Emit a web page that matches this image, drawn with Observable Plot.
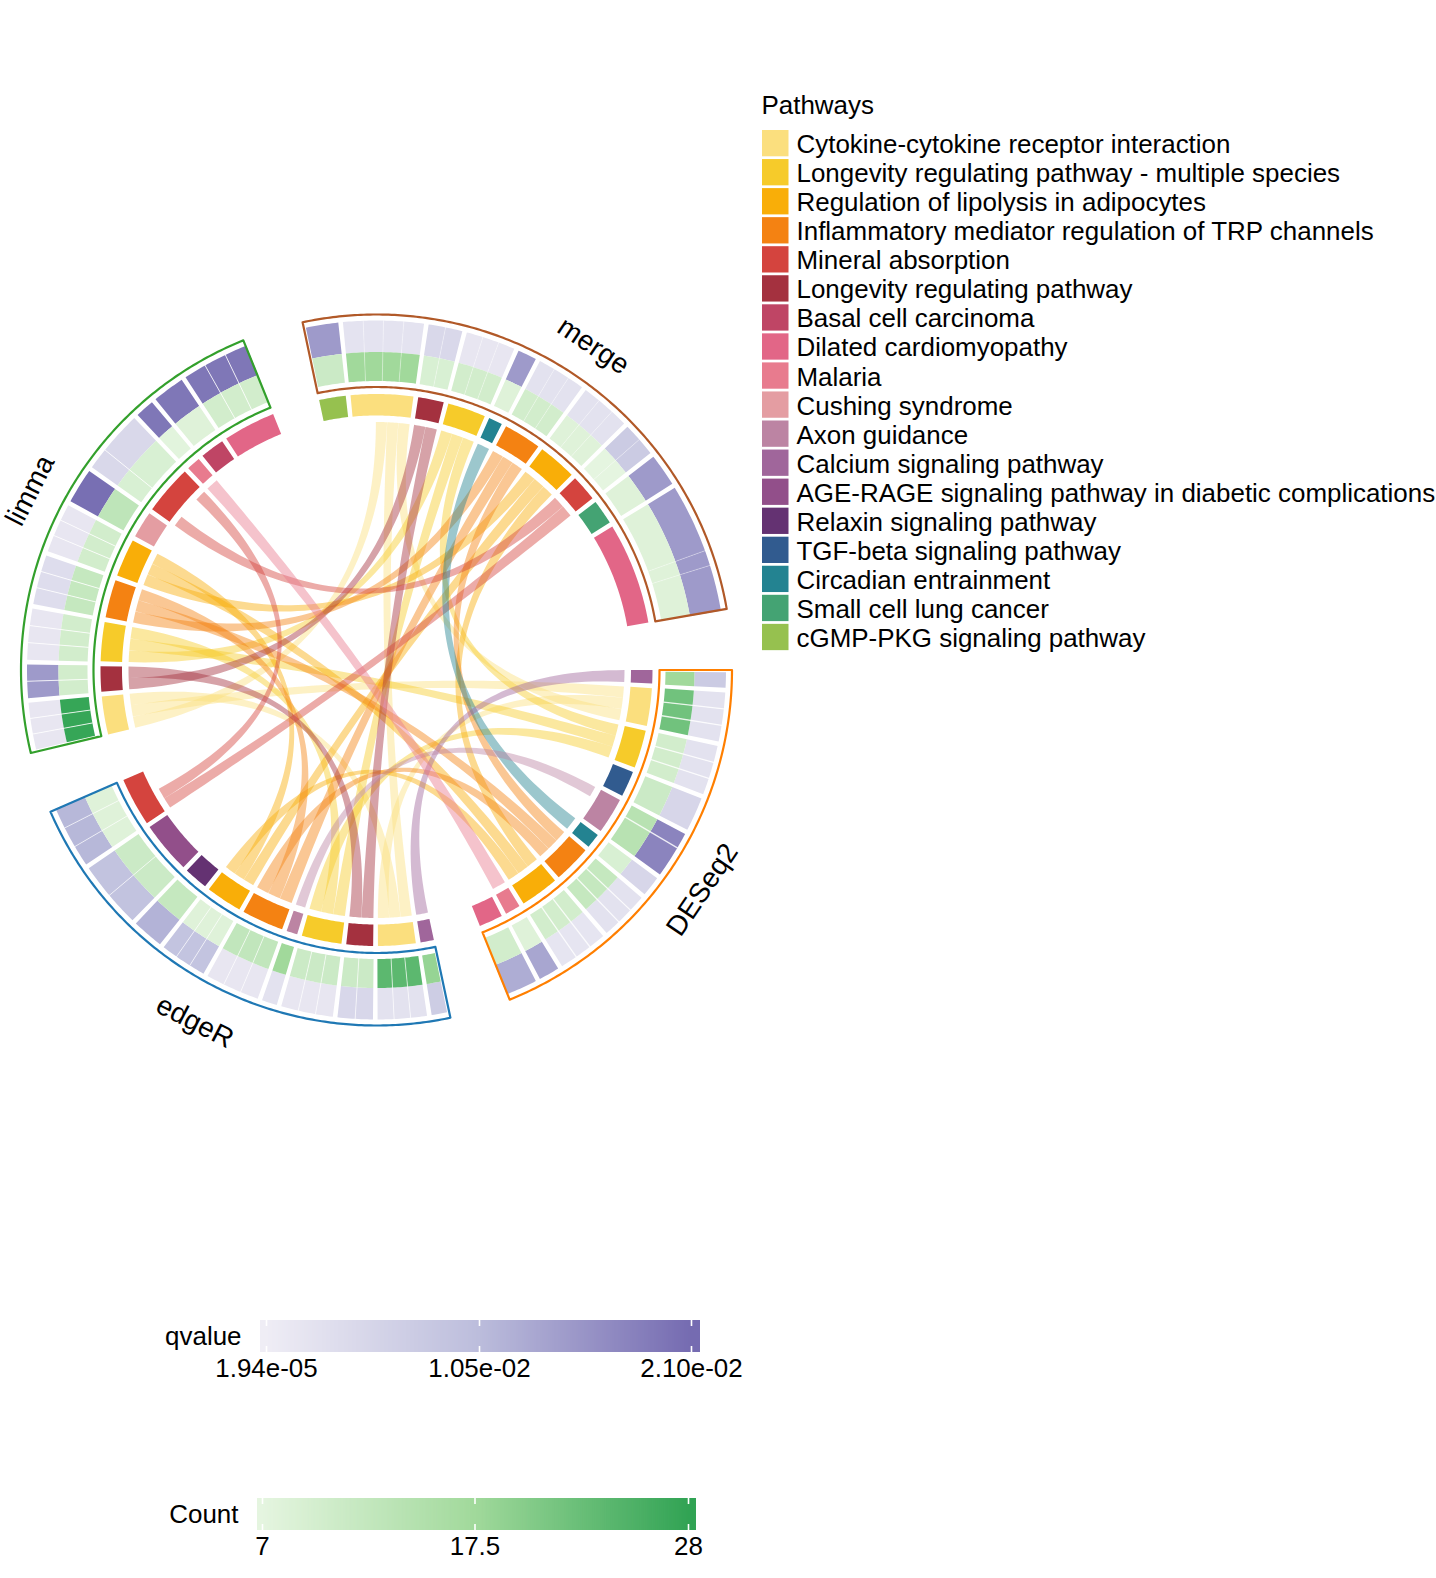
<!DOCTYPE html>
<html><head><meta charset="utf-8">
<script src="https://cdn.jsdelivr.net/npm/d3@7"></script>
<script src="https://cdn.jsdelivr.net/npm/@observablehq/plot@0.6"></script>
<style>html,body{margin:0;padding:0;background:#fff}svg{display:block}</style>
</head><body><div id="chart"></div>
<script>
const pathways=["Cytokine-cytokine receptor interaction","Longevity regulating pathway - multiple species","Regulation of lipolysis in adipocytes","Inflammatory mediator regulation of TRP channels","Mineral absorption","Longevity regulating pathway","Basal cell carcinoma","Dilated cardiomyopathy","Malaria","Cushing syndrome","Axon guidance","Calcium signaling pathway","AGE-RAGE signaling pathway in diabetic complications","Relaxin signaling pathway","TGF-beta signaling pathway","Circadian entrainment","Small cell lung cancer","cGMP-PKG signaling pathway"];
const pathwayColors=["#FBDF7E","#F6CB2A","#F9AE08","#F48212","#D4443E","#A4313F","#BF4565","#E26687","#E87B8E","#E49DA2","#BC84A3","#A0669B","#924F8A","#643272","#315B8F","#238391","#44A373","#96C14F"];
const sectorNames=["merge","DESeq2","edgeR","limma"];
const sectorColors=["#B15928","#FF7F00","#1F78B4","#33A02C"];
const Cy=0,LM=1,Li=2,In=3,Mi=4,LR=5,Ba=6,Di=7,Ma=8,Cu=9,Ax=10,Ca=11,AG=12,Re=13,TG=14,Ci=15,Sm=16,cG=17;

const mergePath=[cG,Cy,LR,LM,Ci,In,Li,Mi,Sm,Di];
const mergeSize=[5.6,13.1,5.4,8,2.9,7.9,8.1,5.5,5.2,21.4];
const mergeQ=[.015,.0022,.0045,.0015,.015,.0025,.0025,.0075,.015,.015];
const mergeCount=[11,17.5,9,10,8,10,8,7,8,8];
const mergeCells=[[1],[1,1,1,1],[1,1],[1,1,1],[1],[1,1,1],[1,1,1],[1,1],[1],[4.5,1,3]];

const deseqPath=[Ca,Cy,LM,TG,Ax,Ci,In,Li,Ma,Di];
const deseqSize=[2.8,7.9,8,5.4,7.6,3.1,7.9,8.1,3.2,5];
const deseqQ=[.0075,.0025,.0025,.005,.0178,.005,.0025,.0018,.0135,.0125];
const deseqCount=[17.5,22,10,11,14,9,12,10,8,10];
const deseqCells=[[1],[1,1,1],[1,1,1],[1],[1,2],[1],[1,1,1],[1,1,1],[1],[1]];

const edgerPath=[Ca,Cy,LR,LM,Ax,In,Li,Re,AG,Mi];
const edgerSize=[2.8,7.9,5.6,8.4,2.3,8.8,7.6,5,10.9,10.2];
const edgerQ=[.007,.0025,.0048,.0015,.0025,.0015,.009,.0118,.0092,.0112];
const edgerCount=[18.5,24,11,11,17.5,12.5,8,12,11,8];
const edgerCells=[[1],[1,1,1],[1,1],[1,1,1],[1],[1,1,1],[1,1,1],[1],[1,1],[1,1,1]];

const limmaPath=[Cy,LR,LM,In,Li,Cu,Mi,Ma,Ba,Di];
const limmaSize=[8,5.3,8.2,8,8,5.6,10.4,2.9,5.1,11];
const limmaQ=[.0015,.015,.0015,.0035,.0015,.0205,.0045,.0195,.0195,.0195];
const limmaCount=[27.5,10,10,12,10,13,9,7.5,8,10];
const limmaCells=[[1,1,1],[1,1],[1,1,1],[1,1,1],[1,1,1],[1],[1,2],[1],[1],[1,1,1]];

const sectorStart=[-12,90,168,256.5];
const M=0,D=1,E=2,L=3;
const slotOrder=new Map([
 [Cy,{[M]:[null,null,L,E,D],[D]:[L,E,M],[E]:[M,L,D],[L]:[M,D,E]}],
 [LM,{[M]:[L,E,D],[D]:[M,L,E],[E]:[M,L,D],[L]:[M,D,E]}],
 [Li,{[M]:[L,E,D],[D]:[M,L,E],[E]:[M,L,D],[L]:[M,D,E]}],
 [In,{[M]:[L,E,D],[D]:[M,L,E],[E]:[M,L,D],[L]:[M,D,E]}],
 [LR,{[M]:[L,E],[E]:[M,L],[L]:[M,E]}],
 [Mi,{[M]:[L,E],[E]:[M,L,null,null],[L]:[M,null,null,E]}],
 [Ci,{[M]:[D],[D]:[M]}],
 [Ca,{[D]:[E],[E]:[D]}],
 [Ax,{[D]:[E,null,null],[E]:[D]}],
 [Ma,{[D]:[L],[L]:[D]}]
]);

const W=1436,H=1578,cx=376,cy=669.5;
const rBorder=[283,355.5],rQ=[318,349.5],rC=[289,318],rRing=[254.5,276],rChord=248;
const GAP=1,RIBBON_K=.4;
const subLine=[.4,1.3,.8,1];
const sin=a=>Math.sin(a*Math.PI/180),cos=a=>Math.cos(a*Math.PI/180);
const pt=(a,r)=>[cx+r*sin(a),cy-r*cos(a)];
const arc=(a0,a1,r)=>{const n=Math.max(2,Math.ceil(Math.abs(a1-a0)/0.5));return d3.range(n+1).map(i=>pt(a0+(a1-a0)*i/n,r));};
const band=(a0,a1,r0,r1)=>[...arc(a0,a1,r1),...arc(a1,a0,r0)];
const qbez=(p,q,c)=>d3.range(1,60).map(i=>{const t=i/60,u=1-t;return [u*u*p[0]+t*t*q[0]+2*u*t*c[0],u*u*p[1]+t*t*q[1]+2*u*t*c[1]];});

const qScale=Plot.scale({color:{type:"linear",domain:[1.94e-5,.0105,.021],range:["#efedf5","#bcbddc","#756bb1"],clamp:true}});
const countScale=Plot.scale({color:{type:"linear",domain:[7,17.5,28],range:["#e5f5e0","#a1d99b","#31a354"],clamp:true}});
const pathScale=Plot.scale({color:{type:"ordinal",domain:pathways,range:pathwayColors}});

const tables=[[mergePath,mergeSize,mergeQ,mergeCount,mergeCells],[deseqPath,deseqSize,deseqQ,deseqCount,deseqCells],[edgerPath,edgerSize,edgerQ,edgerCount,edgerCells],[limmaPath,limmaSize,limmaQ,limmaCount,limmaCells]];
const polys={ring:[],cell:[],border:[],chord:[],sub:[]};
const add=(list,pts,id,color,extra)=>pts.forEach(([x,y])=>list.push({x,y,id,color,...extra}));
const seg=new Map();
tables.forEach(([P,S,Q,C,K],si)=>{
  let a=sectorStart[si];const a0=a;
  P.forEach((p,i)=>{
    const s=a,e=a+S[i];
    seg.set(si+":"+p,[s,e]);
    add(polys.ring,band(s,e,rRing[0],rRing[1]),`r${si}-${i}`,pathScale.apply(pathways[p]));
    const total=d3.sum(K[i]);let c=Math.max(s-.12,a0+.35);const top=e+.12,wid=top-c;
    K[i].forEach((w,j)=>{const c1=c+wid*w/total;
      add(polys.cell,band(c,c1,rQ[0],rQ[1]),`q${si}-${i}-${j}`,qScale.apply(Q[i]));
      add(polys.cell,band(c,c1,rC[0],rC[1]),`c${si}-${i}-${j}`,countScale.apply(C[i]));
      if(j<K[i].length-1) add(polys.sub,[pt(c1,rC[0]),pt(c1,rQ[1])],`s${si}-${i}-${j}`,"white",{w:subLine[si]});
      c=c1;});
    a=e+GAP;
  });
  add(polys.border,[...band(a0,a-GAP,rBorder[0],rBorder[1]),pt(a0,rBorder[1])],`b${si}`,sectorColors[si]);
});
const slot=(p,si,other)=>{const o=slotOrder.get(p)[si],[s,e]=seg.get(si+":"+p),w=(e-s)/o.length,i=o.indexOf(other);return [s+i*w+.02,s+(i+1)*w-.02];};
slotOrder.forEach((o,p)=>{
  sectorNames.forEach((_,a)=>{ if(!o[a])return; o[a].forEach(b=>{ if(b===null||b<=a)return;
    const [a0,a1]=slot(p,a,b),[b0,b1]=slot(p,b,a);
    const A=arc(a0,a1,rChord),B=arc(b0,b1,rChord);
    const A1=A[0],A2=A[A.length-1],B1=B[0],B2=B[B.length-1];
    const Dx=RIBBON_K*.25*(A2[0]-A1[0]+B1[0]-B2[0])/2,Dy=RIBBON_K*.25*(A2[1]-A1[1]+B1[1]-B2[1])/2;
    const pts=[...A,...qbez(A2,B1,[cx+Dx,cy+Dy]),...B,...qbez(B2,A1,[cx-Dx,cy-Dy])];
    add(polys.chord,pts,`l${p}-${a}-${b}`,pathScale.apply(pathways[p]));
  });});
});
const labels=[{t:"merge",a:33.8,r:390,rot:33.8},{t:"DESeq2",a:124,r:393,rot:-56},{t:"edgeR",a:207.3,r:396,rot:27.3},{t:"limma",a:297.4,r:390,rot:-63}]
  .map(d=>{const [x,y]=pt(d.a,d.r);return {...d,x,y};});

const FONT="Liberation Sans, Arial, Helvetica, sans-serif",FS=25.95;
const legX=762,legY=130,legStep=29.05;
const legend=pathways.map((name,i)=>({name,i,y:legY+i*legStep,color:pathwayColors[i]}));
const ramp=(scale,dom,x0,x1,t0,t1)=>{const n=220;return d3.range(n).map(i=>{const u0=x0+(x1-x0)*i/n,u1=x0+(x1-x0)*(i+1)/n,v=dom[0]+(dom[2]-dom[0])*((u0+u1)/2-t0)/(t1-t0);return {x1:u0,x2:u1+.8,color:scale.apply(v)};});};
const qBar={x0:260,x1:700,y0:1320,y1:1352,t:[266,479,691],lab:["1.94e-05","1.05e-02","2.10e-02"],dom:qScale.domain,title:"qvalue",s:qScale};
const cBar={x0:257,x1:696,y0:1498,y1:1530,t:[262,474.5,688],lab:["7","17.5","28"],dom:countScale.domain,title:"Count",s:countScale};
const bars=[qBar,cBar];
const barMarks=bars.flatMap(b=>[
  Plot.rectY(ramp(b.s,b.dom,b.x0,b.x1,b.t[0],b.t[2]),{x1:"x1",x2:d=>Math.min(d.x2,b.x1),y1:b.y0,y2:b.y1,fill:"color"}),
  Plot.ruleX(b.t,{y1:b.y0,y2:b.y0+6,stroke:"white",strokeWidth:1.6}),
  Plot.ruleX(b.t,{y1:b.y1-6,y2:b.y1,stroke:"white",strokeWidth:1.6}),
  Plot.text(b.t.map((x,i)=>({x,l:b.lab[i]})),{x:"x",y:b.y1+16,text:"l",fontSize:FS,fill:"black",fontFamily:FONT}),
  Plot.text([b.title],{x:b.x0-19,y:(b.y0+b.y1)/2,text:d=>d,textAnchor:"end",fontSize:FS,fill:"black",fontFamily:FONT})
]);

const chart=Plot.plot({width:W,height:H,margin:0,
  x:{axis:null,domain:[0,W],range:[0,W]},y:{axis:null,domain:[0,H],range:[0,H]},color:{type:"identity"},
  marks:[
   Plot.line(polys.chord,{x:"x",y:"y",z:"id",fill:"color",fillOpacity:.45,stroke:"none"}),
   Plot.line(polys.ring,{x:"x",y:"y",z:"id",fill:"color",stroke:"none"}),
   Plot.line(polys.cell,{x:"x",y:"y",z:"id",fill:"color",stroke:"none"}),
   Plot.line(polys.sub,{x:"x",y:"y",z:"id",stroke:"white",strokeWidth:"w",strokeOpacity:.8}),
   Plot.line(polys.border,{x:"x",y:"y",z:"id",stroke:"color",strokeWidth:2.2,fill:"none"}),
   Plot.text(labels,{x:"x",y:"y",text:"t",rotate:"rot",fontSize:28,fill:"black",fontFamily:FONT}),
   Plot.text(["Pathways"],{x:legX-1,y:legY-25,text:d=>d,textAnchor:"start",fontSize:FS,fill:"black",fontFamily:FONT}),
   Plot.rect(legend,{x1:legX,x2:legX+26.5,y1:"y",y2:d=>d.y+26.3,fill:"color"}),
   Plot.text(legend,{x:legX+34,y:d=>d.y+14.3,text:"name",textAnchor:"start",fontSize:FS,fill:"black",fontFamily:FONT}),
   ...barMarks
  ]});
document.getElementById("chart").appendChild(chart);
</script></body></html>
